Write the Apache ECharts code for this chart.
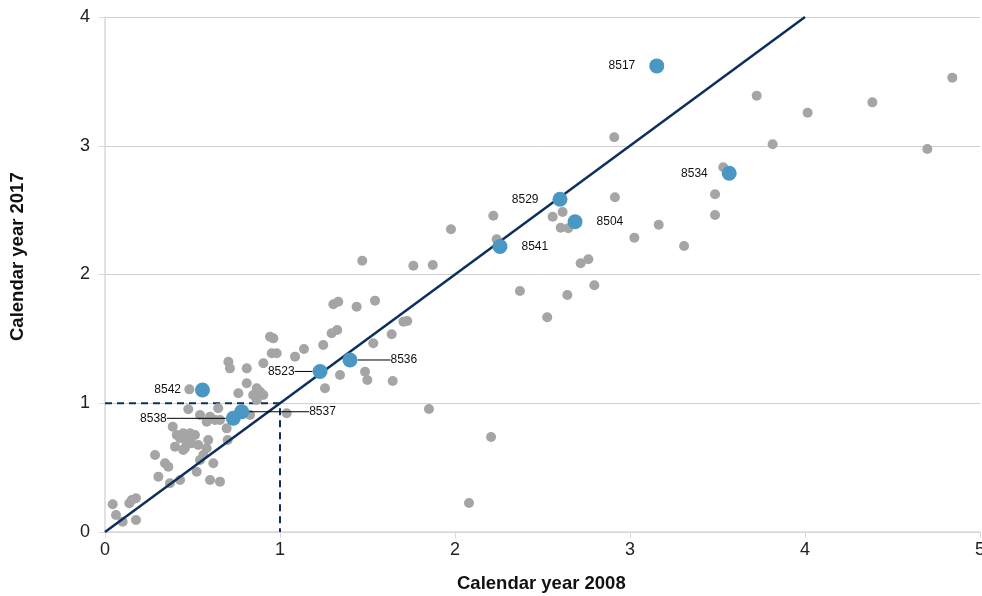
<!DOCTYPE html>
<html>
<head>
<meta charset="utf-8">
<script src="https://cdn.jsdelivr.net/npm/echarts@6/dist/echarts.min.js"></script>
<style>
  html, body { margin: 0; padding: 0; background: #fff; }
  #chart { width: 982px; height: 596px; }
</style>
</head>
<body>
<div id="chart"></div>
<script>
// other stations (grey dots)
var otherX = [0.044, 0.063, 0.101, 0.139, 0.153, 0.177, 0.177, 0.286, 0.305, 0.343, 0.362, 0.371, 0.429,
  0.387, 0.410, 0.429, 0.447, 0.486, 0.514, 0.467, 0.447, 0.495, 0.533, 0.581, 0.524, 0.543, 0.562, 0.600,
  0.657, 0.619, 0.701, 0.695, 0.476, 0.543, 0.600, 0.629, 0.581, 0.647, 0.829, 1.038, 0.762, 0.810, 0.867,
  0.886, 0.847, 0.905, 0.867, 0.482, 0.705, 0.714, 0.810, 0.905, 0.943, 0.962, 0.953, 0.981, 1.086, 1.137,
  1.247, 1.295, 1.327, 1.305, 1.333, 1.438, 1.543, 1.705, 1.727, 1.638, 1.533, 1.343, 1.257, 1.486, 1.499,
  1.644, 1.470, 1.762, 1.873, 1.977, 2.219, 2.238, 2.371, 2.558, 2.615, 2.604, 2.647, 2.527, 2.642, 2.718,
  2.762, 2.796, 2.910, 2.914, 3.025, 3.164, 3.309, 3.486, 3.486, 3.533, 3.724, 3.815, 4.015, 4.385, 4.699,
  4.842, 2.206, 2.080, 1.851, 0.400, 0.457, 0.590, 0.657];
var otherY = [0.215, 0.132, 0.080, 0.223, 0.249, 0.262, 0.093, 0.598, 0.430, 0.534, 0.507, 0.378, 0.404,
  0.818, 0.753, 0.728, 0.767, 0.767, 0.753, 0.701, 0.637, 0.689, 0.676, 0.650, 0.468, 0.559, 0.598, 0.404,
  0.391, 0.534, 0.715, 0.805, 0.953, 0.909, 0.896, 0.870, 0.857, 0.961, 0.909, 0.922, 1.077, 1.155, 1.116,
  1.090, 1.064, 1.064, 1.025, 1.108, 1.323, 1.271, 1.271, 1.310, 1.517, 1.504, 1.388, 1.388, 1.362, 1.421,
  1.452, 1.543, 1.569, 1.769, 1.789, 1.750, 1.797, 1.633, 1.639, 1.536, 1.466, 1.219, 1.116, 1.245, 1.181,
  1.173, 2.107, 2.068, 2.074, 2.351, 2.457, 2.273, 1.872, 2.449, 2.485, 2.363, 2.359, 1.668, 1.841, 2.087,
  2.118, 1.916, 3.066, 2.600, 2.286, 2.387, 2.221, 2.462, 2.623, 2.833, 3.389, 3.011, 3.257, 3.337, 2.975,
  3.529, 0.738, 0.225, 0.955, 0.663, 0.652, 0.715, 0.870];

// highlighted stations (blue dots)
var highlightIds = ["8517", "8534", "8529", "8504", "8541", "8536", "8523", "8542", "8538", "8537"];
var highlightX = [3.153, 3.567, 2.600, 2.686, 2.257, 1.400, 1.229, 0.557, 0.733, 0.781];
var highlightY = [3.620, 2.786, 2.584, 2.410, 2.217, 1.336, 1.247, 1.103, 0.883, 0.934];

// reference lines
var diagonalX = [0, 4];
var diagonalY = [0, 4];
var guideX = [0, 1, 1];
var guideY = [1, 1, 0];

var xTicks = [0, 1, 2, 3, 4, 5];
var yTicks = [0, 1, 2, 3, 4];

var chart = echarts.init(document.getElementById("chart"));

// label side + leader lines
var labelSide = {
  "8517": "left", "8534": "left", "8529": "left", "8542": "left", "8523": "left", "8538": "left",
  "8504": "right", "8541": "right", "8536": "right", "8537": "right"
};
var leaderShift = { "8536": 19, "8523": -4, "8538": -45, "8537": 46 };

var otherData = otherX.map(function (x, i) { return [x, otherY[i]]; });
var highlightData = highlightX.map(function (x, i) {
  var id = highlightIds[i];
  return {
    value: [x, highlightY[i]],
    name: id,
    label: { position: labelSide[id] },
    labelLine: { show: leaderShift[id] !== undefined }
  };
});

var option = {
  animation: false,
  textStyle: { fontFamily: "Liberation Sans, Arial, sans-serif" },
  grid: { left: 105, right: 2, top: 17, bottom: 64, outerBoundsMode: "none", containLabel: false },
  xAxis: {
    type: "value",
    min: xTicks[0],
    max: xTicks[xTicks.length - 1],
    interval: 1,
    axisLine: { show: true, onZero: false, lineStyle: { color: "#d9d9d9", width: 1.5 } },
    axisTick: { show: true, length: 6, lineStyle: { color: "#d9d9d9" } },
    axisLabel: { color: "#222", fontSize: 18, margin: 9 },
    splitLine: { show: false }
  },
  yAxis: {
    type: "value",
    min: yTicks[0],
    max: yTicks[yTicks.length - 1],
    interval: 1,
    axisLine: { show: true, lineStyle: { color: "#d9d9d9", width: 1.5 } },
    axisTick: { show: true, length: 6, lineStyle: { color: "#d9d9d9" } },
    axisLabel: { color: "#222", fontSize: 18, margin: 15 },
    splitLine: { show: true, lineStyle: { color: "#d0d0d0", width: 1 } }
  },
  graphic: [
    {
      type: "text", left: 457, top: 574,
      style: { text: "Calendar year 2008", font: "bold 18.5px Liberation Sans, Arial", fill: "#111" }
    },
    {
      type: "text", x: 8, y: 341, rotation: Math.PI / 2,
      style: { text: "Calendar year 2017", font: "bold 18.5px Liberation Sans, Arial", fill: "#111" }
    }
  ],
  series: [
    {
      name: "guide",
      type: "line",
      data: guideX.map(function (x, i) { return [x, guideY[i]]; }),
      symbol: "none",
      lineStyle: { color: "#0c2f5e", width: 2, type: [7, 5] },
      z: 1
    },
    {
      name: "others",
      type: "scatter",
      data: otherData,
      symbolSize: 10,
      itemStyle: { color: "#a5a5a5", opacity: 1 },
      z: 2
    },
    {
      name: "diagonal",
      type: "line",
      data: diagonalX.map(function (x, i) { return [x, diagonalY[i]]; }),
      symbol: "none",
      lineStyle: { color: "#0c2f5e", width: 2.5 },
      z: 3
    },
    {
      name: "highlight",
      type: "scatter",
      data: highlightData,
      symbolSize: 15,
      itemStyle: { color: "#4a97c3", opacity: 1 },
      label: {
        show: true,
        formatter: "{b}",
        distance: 14,
        color: "#111",
        fontSize: 12
      },
      labelLine: { show: false, lineStyle: { color: "#000", width: 1 } },
      labelLayout: function (params) {
        var id = highlightIds[params.dataIndex];
        var dx = leaderShift[id];
        return dx !== undefined ? { dx: dx } : {};
      },
      z: 4
    }
  ]
};

chart.setOption(option);
</script>
</body>
</html>
